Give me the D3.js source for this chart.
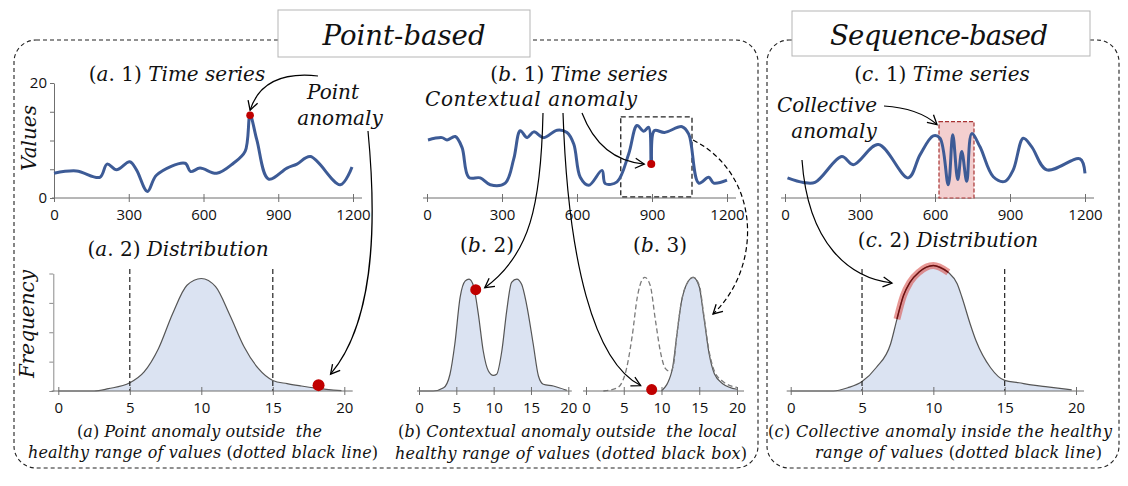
<!DOCTYPE html>
<html><head><meta charset="utf-8">
<script src="https://cdn.jsdelivr.net/npm/d3@7"></script>
<style>body{margin:0;background:#fff} svg{display:block}</style>
</head><body>
<svg id="chart" width="1128" height="486"></svg>
<script>
// ---------------- DATA ----------------
const tsTicks = [0, 300, 600, 900, 1200];
const distTicks = [0, 5, 10, 15, 20];
const healthyRange = [5, 15];

// (a.1) time series with a point anomaly  [time, value]
const seriesA = [[0,4.3],[90,4.7],[184,3.6],[213,5.9],[251,4.9],[304,6.3],[331,4.9],[375,1.15],[412,4.0],[526,6.05],[548,4.6],[586,5.2],[653,4.3],[720,6.05],[767,8.1],[787,14.4],[814,10.1],[861,3.3],[935,5.2],[975,5.9],[1029,7.2],[1149,2.3],[1196,5.4]];
const anomalyA = [787, 14.4];

// (b.1) time series with a contextual anomaly
const seriesB = [[4,10.1],[60,10.5],[80,10.1],[113,10.7],[140,8.8],[167,3.6],[213,3.5],[253,2.3],[313,2.6],[347,6.8],[373,11.7],[400,10.5],[427,11.5],[467,10.5],[520,11.8],[560,11.4],[587,9.4],[613,3.6],[647,2.2],[700,4.8],[713,2.5],[760,2.8],[807,7.7],[840,12.6],[867,11.6],[887,12.3],[897,5.9],[909,11.7],[950,11.4],[1020,12.4],[1047,11.1],[1087,2.6],[1127,3.6],[1147,2.6],[1200,3.1]];
const anomalyB = [897, 5.9];
const localWindowB = {t0: 775, t1: 1060, v0: 0.2, v1: 14.1};

// (c.1) time series with a collective anomaly
const seriesC = [[10,3.5],[73,2.7],[120,2.7],[227,7.2],[273,5.8],[373,9.3],[493,3.5],[540,7.5],[593,10.8],[620,10.4],[653,2.3],[671,11.0],[691,3.2],[707,8.1],[727,2.9],[747,11.2],[780,8.9],[833,3.7],[880,2.9],[913,4.9],[953,10.4],[987,8.9],[1047,4.9],[1180,6.8],[1200,4.3]];
const windowC = {t0: 616, t1: 756, v0: 0, v1: 13.3};

// distributions [value, frequency]
const distA = [[0,0],[2.5,0],[3.5,0.08],[5,0.28],[6,0.65],[7,1.44],[8,2.64],[9,3.6],[10,3.83],[11,3.55],[12,2.58],[13,1.5],[14,0.76],[15,0.36],[16,0.25],[17,0.17],[18,0.1],[19.8,0.01]];
const anomalyDistA = [18.2, 0.2];

const distB2 = [[0,0],[1.9,0],[3.3,0.11],[4.15,0.57],[4.8,1.6],[5.5,3.18],[6.2,3.75],[6.7,3.81],[7.3,3.58],[7.95,2.62],[8.6,1.37],[9.3,0.68],[9.95,0.53],[10.4,0.57],[11.1,1.37],[11.75,2.73],[12.4,3.7],[13.1,3.81],[13.75,3.63],[14.4,2.96],[15.3,1.6],[16.0,0.51],[16.65,0.23],[18,0.17],[19.8,0.02]];
const anomalyDistB2 = [7.6, 3.45];

const distB3Local = [[10,0],[11.4,0.7],[12,1.84],[12.6,2.98],[13.5,3.72],[14.2,3.87],[15,3.55],[15.6,2.53],[16.3,1.28],[17,0.59],[18.1,0.25],[20,0.06]];
const distB3Global = [[2.3,0],[4.1,0.1],[5.2,0.59],[6.1,1.84],[6.8,3.2],[7.4,3.77],[7.8,3.87],[8.5,3.6],[9.2,2.4],[9.9,1.28],[10.5,0.77],[11.2,0.66],[11.6,0.9],[12,1.84],[12.6,2.98],[13.5,3.72],[14.2,3.87],[15,3.6],[15.6,2.6],[16.3,1.36],[17,0.68],[18.1,0.33],[20,0.12]];
const anomalyDistB3 = [8.7, 0.05];

const distC = [[0,0],[3,0],[4,0.11],[5,0.32],[6,0.8],[7,1.6],[7.45,2.45],[7.9,3.24],[8.36,3.7],[9,4.05],[10,4.27],[11.05,4.04],[11.67,3.65],[12,3.2],[12.57,2.3],[13,1.7],[14,0.8],[15,0.36],[16,0.28],[17,0.2],[18,0.14],[19.7,0.04]];
const highlightC = [7.45, 11.05];

// ---------------- DRAWING ----------------
const svg = d3.select("#chart");
const SERIF = "DejaVu Serif", SANS = "Open Sans";
const LINE_BLUE = "#3d5b96", FILL_BLUE = "#dbe3f2", RED = "#c00000", AXIS = "#6f6f6f";

const defs = svg.append("defs");
defs.append("marker").attr("id","arr").attr("viewBox","-11 -7 13 14")
  .attr("refX",0).attr("refY",0).attr("markerWidth",13).attr("markerHeight",14)
  .attr("markerUnits","userSpaceOnUse").attr("orient","auto")
  .append("path").attr("d","M-9,-5 L0,0 L-9,5").attr("fill","none")
  .attr("stroke","#000").attr("stroke-width",1.3);

function mtext(str, x, y, size, opts = {}) {
  const t = svg.append("text").attr("x", x).attr("y", y).attr("font-size", size)
    .attr("text-anchor", opts.anchor || "middle").attr("font-family", SERIF)
    .attr("fill", "#111").style("white-space", "pre");
  if (opts.rotate) t.attr("transform", `rotate(-90,${x},${y})`);
  str.split(/([A-Za-z]+)/).filter(s => s.length).forEach(s => {
    t.append("tspan").text(s).attr("font-style", /[A-Za-z]/.test(s) ? "italic" : "normal");
  });
  if (opts.w) {
    const len = t.node().getComputedTextLength();
    const ls = (opts.w - len) / Math.max(1, str.length - 1);
    t.attr("letter-spacing", ls.toFixed(2));
    if (!opts.anchor || opts.anchor === "middle") t.attr("x", x + ls / 2);
  }
  return t;
}

// frames
svg.append("rect").attr("x",14).attr("y",40).attr("width",744).attr("height",428).attr("rx",22)
  .attr("fill","none").attr("stroke","#222").attr("stroke-width",1.1).attr("stroke-dasharray","4,3");
svg.append("rect").attr("x",767).attr("y",40).attr("width",352).attr("height",428).attr("rx",22)
  .attr("fill","none").attr("stroke","#222").attr("stroke-width",1.1).attr("stroke-dasharray","4,3");
svg.append("rect").attr("x",278).attr("y",10).attr("width",252).attr("height",47)
  .attr("fill","#fff").attr("stroke","#b5b5b5");
svg.append("rect").attr("x",792).attr("y",11).attr("width",298).attr("height",45)
  .attr("fill","#fff").attr("stroke","#b5b5b5");
mtext("Point-based", 404, 45, 27.5, {w: 163});
mtext("Sequence-based", 939, 45, 27.5, {w: 218});

// scales
const yTS = d3.scaleLinear().domain([0,20]).range([198,83]);
const xA = d3.scaleLinear().domain([0,1200]).range([54,353]);
const xB = d3.scaleLinear().domain([0,1200]).range([427,727]);
const xC = d3.scaleLinear().domain([0,1200]).range([785,1085]);
const yD = d3.scaleLinear().domain([0,4]).range([391,273.5]);
const xDA = d3.scaleLinear().domain([0,20]).range([58.3,344.3]);
const xDB2 = d3.scaleLinear().domain([0,20]).range([419,568.3]);
const xDB3 = d3.scaleLinear().domain([0,20]).range([586,737]);
const xDC = d3.scaleLinear().domain([0,20]).range([790.7,1076]);

function bottomAxis(x, ticks, yPix, ext, fsize, pad) {
  const ax = d3.axisBottom(x).tickValues(ticks).tickSize(4).tickPadding(pad).tickSizeOuter(0)
    .tickFormat(d3.format("d"));
  const g = svg.append("g").attr("transform", `translate(0,${yPix})`).call(ax);
  g.select(".domain").remove();
  g.selectAll(".tick line").attr("y1", -4).attr("stroke", AXIS);
  g.selectAll(".tick text").attr("font-family", SANS).attr("font-size", fsize).attr("fill", "#111");
  g.insert("line", ":first-child").attr("x1", x.range()[0] - ext[0]).attr("x2", x.range()[1] + ext[1])
    .attr("stroke", AXIS).attr("stroke-width", 1);
  return g;
}

// ---- time series ----
const tsLine = x => d3.line().x(d => x(d[0])).y(d => yTS(d[1])).curve(d3.curveCatmullRom.alpha(0.5));

// (a.1)
const yAx = d3.axisLeft(yTS).tickValues([0,5,10,15,20]).tickSize(4).tickPadding(3).tickSizeOuter(0)
  .tickFormat(d => (d === 0 || d === 20) ? d : "");
const gy = svg.append("g").attr("transform", "translate(54,0)").call(yAx);
gy.select(".domain").attr("stroke", AXIS);
gy.selectAll(".tick line").attr("stroke", AXIS);
gy.selectAll(".tick text").attr("font-family", SANS).attr("font-size", 15).attr("fill", "#111");
bottomAxis(xA, tsTicks, yTS(0), [2, 9], 15, 7);
svg.append("path").datum(seriesA).attr("d", tsLine(xA)).attr("fill","none")
  .attr("stroke", LINE_BLUE).attr("stroke-width", 3).attr("stroke-linejoin","round");
svg.append("circle").attr("cx", xA(anomalyA[0])).attr("cy", yTS(anomalyA[1])).attr("r", 3.8).attr("fill", RED);

// (b.1)
bottomAxis(xB, tsTicks, yTS(0), [4, 9], 15, 7);
svg.append("rect").attr("x", xB(localWindowB.t0)).attr("y", yTS(localWindowB.v1))
  .attr("width", xB(localWindowB.t1) - xB(localWindowB.t0)).attr("height", yTS(localWindowB.v0) - yTS(localWindowB.v1))
  .attr("fill","none").attr("stroke","#222").attr("stroke-width",1.3).attr("stroke-dasharray","5,3");
svg.append("path").datum(seriesB).attr("d", tsLine(xB)).attr("fill","none")
  .attr("stroke", LINE_BLUE).attr("stroke-width", 3).attr("stroke-linejoin","round");
svg.append("circle").attr("cx", xB(anomalyB[0])).attr("cy", yTS(anomalyB[1])).attr("r", 4).attr("fill", RED);

// (c.1)
bottomAxis(xC, tsTicks, yTS(0), [4, 9], 15, 7);
svg.append("rect").attr("x", xC(windowC.t0)).attr("y", yTS(windowC.v1))
  .attr("width", xC(windowC.t1) - xC(windowC.t0)).attr("height", yTS(windowC.v0) - yTS(windowC.v1))
  .attr("fill","#f3cfcf").attr("stroke","#a83232").attr("stroke-width",1.2).attr("stroke-dasharray","4,2");
svg.append("path").datum(seriesC).attr("d", tsLine(xC)).attr("fill","none")
  .attr("stroke", LINE_BLUE).attr("stroke-width", 3).attr("stroke-linejoin","round");

// ---- distributions ----
const area = x => d3.area().x(d => x(d[0])).y0(yD(0)).y1(d => yD(d[1])).curve(d3.curveMonotoneX);
const dline = x => d3.line().x(d => x(d[0])).y(d => yD(d[1])).curve(d3.curveMonotoneX);
function drawDist(data, x) {
  svg.append("path").datum(data).attr("d", area(x)).attr("fill", FILL_BLUE);
  svg.append("path").datum(data).attr("d", dline(x)).attr("fill","none").attr("stroke","#555").attr("stroke-width",1.2);
}
function healthy(x) {
  healthyRange.forEach(v => svg.append("line").attr("x1", x(v)).attr("x2", x(v))
    .attr("y1", yD(4.15)).attr("y2", yD(0)).attr("stroke","#222").attr("stroke-width",1.2).attr("stroke-dasharray","5,3"));
}

// (a.2)
drawDist(distA, xDA);
healthy(xDA);
const gyd = svg.append("g").attr("transform", "translate(53.3,0)")
  .call(d3.axisLeft(yD).tickValues([0,1,2,3,4]).tickSize(4).tickSizeOuter(0).tickFormat(""));
gyd.select(".domain").attr("stroke", "#8a8a8a");
gyd.selectAll(".tick line").attr("stroke", "#8a8a8a");
bottomAxis(xDA, distTicks, yD(0), [6.6, 8.4], 15, 7);
svg.append("circle").attr("cx", xDA(anomalyDistA[0])).attr("cy", yD(anomalyDistA[1])).attr("r", 6).attr("fill", RED);

// (b.2)
drawDist(distB2, xDB2);
bottomAxis(xDB2, distTicks, yD(0), [2, 3.5], 15, 7);
svg.append("circle").attr("cx", xDB2(anomalyDistB2[0])).attr("cy", yD(anomalyDistB2[1])).attr("r", 5.5).attr("fill", RED);

// (b.3)
drawDist(distB3Local, xDB3);
svg.append("path").datum(distB3Global).attr("d", dline(xDB3)).attr("fill","none")
  .attr("stroke","#7a7a7a").attr("stroke-width",1.3).attr("stroke-dasharray","5,3");
bottomAxis(xDB3, distTicks, yD(0), [3, 7], 15, 7);
svg.append("circle").attr("cx", xDB3(anomalyDistB3[0])).attr("cy", yD(anomalyDistB3[1])).attr("r", 5.5).attr("fill", RED);

// (c.2)
drawDist(distC, xDC);
healthy(xDC);
bottomAxis(xDC, distTicks, yD(0), [4, 8], 15, 7);
const hiData = distC.filter(d => d[0] >= highlightC[0] && d[0] <= highlightC[1]);
svg.append("path").datum(hiData).attr("d", dline(xDC)).attr("fill","none")
  .attr("stroke","#d9534f").attr("stroke-opacity",0.6).attr("stroke-width",7).attr("stroke-linecap","butt");
svg.append("path").datum(hiData).attr("d", dline(xDC)).attr("fill","none")
  .attr("stroke","#6b1010").attr("stroke-width",1.4);

// ---- annotation arrows ----
function arrow(d, dashed) {
  svg.append("path").attr("d", d).attr("fill","none").attr("stroke","#000").attr("stroke-width",1.2)
    .attr("stroke-dasharray", dashed ? "5,3" : null).attr("marker-end","url(#arr)");
}
const pA = [xA(anomalyA[0]), yTS(anomalyA[1])];
arrow(`M318,76 Q263,70 ${pA[0]},${pA[1]-5}`);
const pDA = [xDA(anomalyDistA[0]), yD(anomalyDistA[1])];
arrow(`M368,131 C378,235 372,325 ${pDA[0]+12},${pDA[1]-11}`);
const pDB2 = [xDB2(anomalyDistB2[0]), yD(anomalyDistB2[1])];
arrow(`M543,113 C541,205 530,255 ${pDB2[0]+9},${pDB2[1]-2}`);
const pDB3 = [xDB3(anomalyDistB3[0]), yD(anomalyDistB3[1])];
arrow(`M563,113 C568,262 594,362 ${pDB3[0]-11},${pDB3[1]-4}`);
const pB = [xB(anomalyB[0]), yTS(anomalyB[1])];
arrow(`M582,113 Q600,160 ${pB[0]-7},${pB[1]}`);
arrow(`M693,140 C762,175 762,268 713,314`, true);
arrow(`M884,106 Q918,108 ${xC(windowC.t0)-2},${yTS(windowC.v1)+3}`);
arrow(`M802,160 C808,245 850,278 892,283`);

// ---- labels ----
mtext("(a. 1) Time series", 177, 81, 20);
mtext("Point", 333, 99, 20);
mtext("anomaly", 340, 125, 20);
mtext("Values", 36, 138, 20, {rotate: true});
mtext("(b. 1) Time series", 579, 81, 20);
mtext("Contextual anomaly", 531, 106, 20, {w: 212});
mtext("(c. 1) Time series", 942, 81, 20);
mtext("Collective", 827, 112, 20, {w: 100});
mtext("anomaly", 834, 138, 20);
mtext("(a. 2) Distribution", 178, 256, 20);
mtext("Frequency", 34, 324, 20, {rotate: true});
mtext("(b. 2)", 487, 252, 20);
mtext("(b. 3)", 660, 252, 20);
mtext("(c. 2) Distribution", 948, 247, 20);
mtext("(a) Point anomaly outside  the", 199.5, 437, 16, {w: 245});
mtext("healthy range of values (dotted black line)", 203, 458, 16, {w: 350});
mtext("(b) Contextual anomaly outside  the local", 567.5, 437, 16, {w: 339});
mtext("healthy range of values (dotted black box)", 571, 459, 16, {w: 352});
mtext("(c) Collective anomaly inside the healthy", 940, 437, 16, {w: 344});
mtext("range of values (dotted black line)", 958.5, 458, 16, {w: 287});
</script>
</body></html>
